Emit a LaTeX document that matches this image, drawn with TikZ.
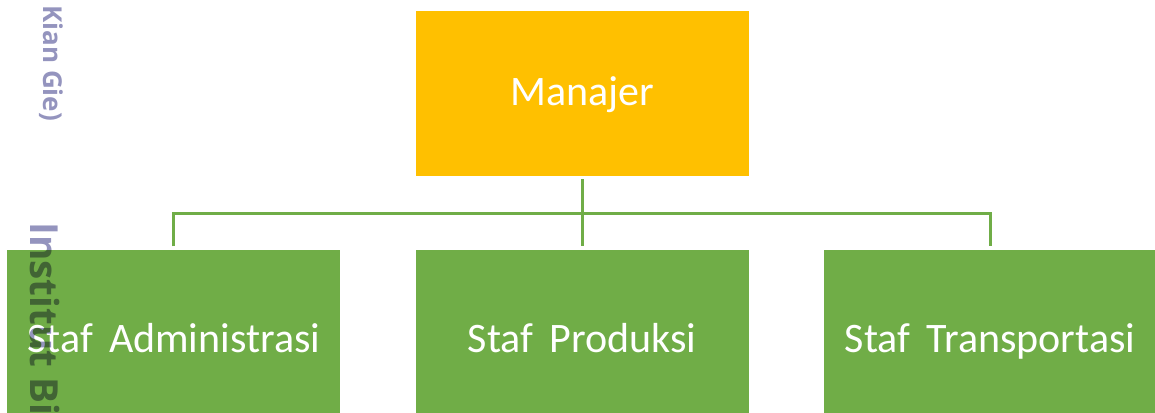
\documentclass[tikz,border=0pt]{standalone}
\usepackage{fontspec}
\setmainfont{Carlito}[WordSpace=1.7]
\newfontfamily\wmfont{Open Sans}
\usetikzlibrary{positioning}
\definecolor{mgold}{HTML}{FFC000}
\definecolor{sgreen}{HTML}{70AD47}
\definecolor{wmlav}{HTML}{9494BE}

\begin{document}
\begin{tikzpicture}[node distance = 54.75pt and 55pt,
  nodes = {draw=white, line width=0.6pt, minimum width=250.5pt, text=white,
    font=\fontsize{31.5}{36}\selectfont, text height=19pt, text depth=0pt},
  conn/.style = {draw=sgreen, line width=2.25pt, shorten <=2.25pt, shorten >=2.25pt},
  wm/.style = {draw=none, text=wmlav, blend mode=multiply, rotate=-90, anchor=base west,
    inner sep=0pt, minimum width=0pt, text height=, text depth=}
  ]
  \useasboundingbox (0,0) rectangle (866.25pt,-309pt);

  \node (manajer) [fill=mgold, minimum height=124.5pt] at (436.5pt,-69.75pt) {Manajer};
  \node (produksi) [fill=sgreen, minimum height=135.75pt, below=of manajer] {Staf Produksi};
  \node (admin) [fill=sgreen, minimum height=135.75pt, left=of produksi] {Staf Administrasi};
  \node (transport) [fill=sgreen, minimum height=135.75pt, right=of produksi] {Staf Transportasi};

  \draw [conn] (manajer) -- (produksi);
  \draw [conn] (admin.north) -- ++(0,27pt) -| (transport.north);

  % watermark on the left edge
  \node (wmtop) [wm, font=\wmfont\bfseries\fontsize{19.5}{22}\selectfont] at (32.25pt,-3.75pt) {Kian Gie)};
  \node (wmbottom) [wm, font=\wmfont\bfseries\fontsize{29}{32}\selectfont] at (23pt,-166.5pt) {Institut Bis};
\end{tikzpicture}
\end{document}
